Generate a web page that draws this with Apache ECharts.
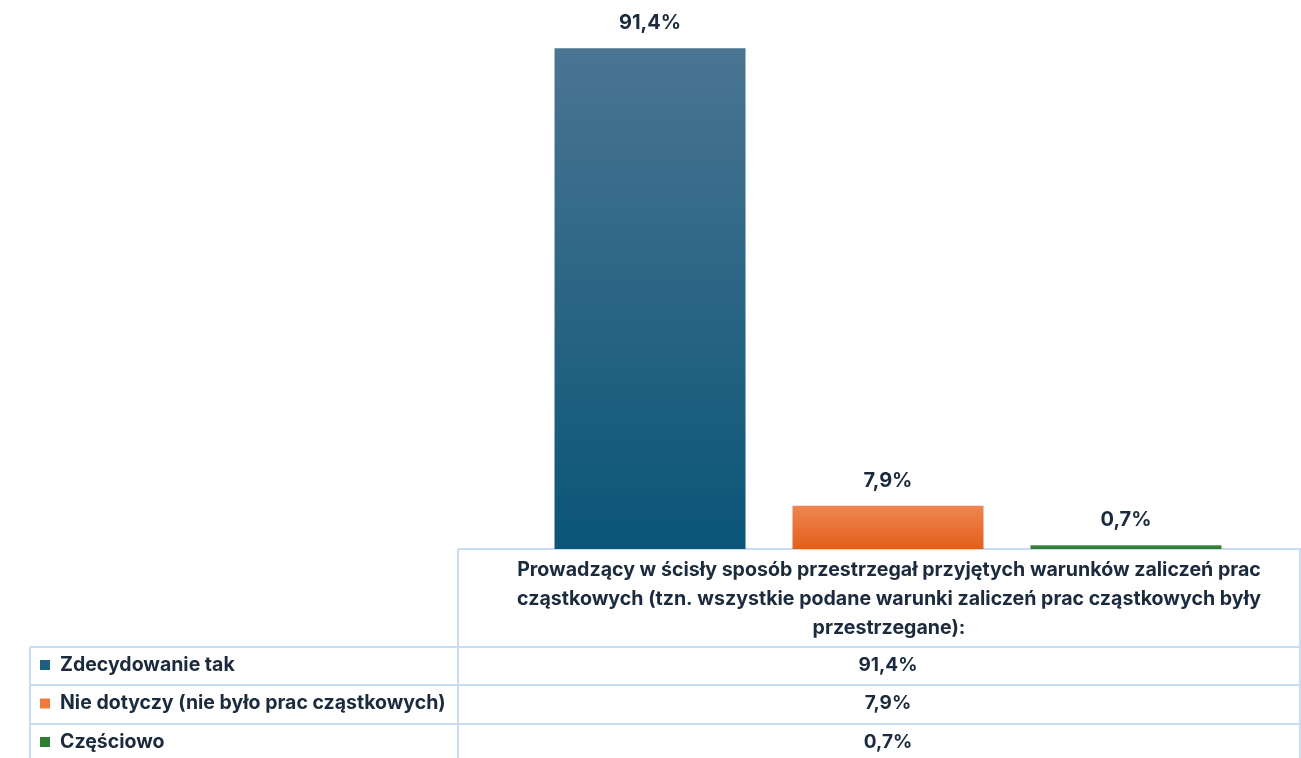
<!DOCTYPE html>
<html>
<head>
<meta charset="utf-8">
<script src="https://cdn.jsdelivr.net/npm/echarts@6/dist/echarts.min.js"></script>
<style>
  html, body { margin: 0; padding: 0; background: #fff; }
  #chart { width: 1301px; height: 758px; }
</style>
</head>
<body>
<div id="chart"></div>
<script>
// data
const categories = ['Prowadzący w ścisły sposób przestrzegał przyjętych warunków zaliczeń prac\ncząstkowych (tzn. wszystkie podane warunki zaliczeń prac cząstkowych były\nprzestrzegane):']
const seriesNames = ['Zdecydowanie tak', 'Nie dotyczy (nie było prac cząstkowych)', 'Częściowo']
const seriesValues = [91.4, 7.9, 0.7]
const seriesColors = [
  ['#4a7592', '#0a5577'],
  ['#ef8652', '#e35e1b'],
  ['#3f8a43', '#2a7a2e']
]
const legendColors = ['#1c5f82', '#ef7a3c', '#2e7d32']

const textColor = '#1b2b3d'
const borderColor = '#c8dcf2'
const font = 'Inter, "Open Sans", sans-serif'

function fmt(v) {
  return v.toFixed(1).replace('.', ',') + '%'
}

const chart = echarts.init(document.getElementById('chart'))

// table layout
const tableLeft = 30
const colX = 458
const right = 1300
const baseY = 549
const headerBottom = 647
const rowH = 38
const textCenter = 888

const graphics = []
function hline(x1, x2, y) {
  graphics.push({ type: 'line', shape: { x1, y1: y, x2, y2: y }, style: { stroke: borderColor, lineWidth: 2 }, silent: true })
}
function vline(x, y1, y2) {
  graphics.push({ type: 'line', shape: { x1: x, y1, x2: x, y2 }, style: { stroke: borderColor, lineWidth: 2 }, silent: true })
}

hline(colX, right + 2, baseY)
hline(tableLeft, right + 2, headerBottom)
seriesNames.forEach((n, i) => hline(tableLeft, right + 2, headerBottom + rowH * (i + 1) + i))
vline(tableLeft, headerBottom, 760)
vline(colX, baseY, 760)
vline(right, baseY, 760)

graphics.push({
  type: 'text', silent: true,
  style: {
    text: categories[0], x: textCenter + 1, y: 599,
    align: 'center', verticalAlign: 'middle',
    font: 'bold 19.6px ' + font, lineHeight: 29, fill: textColor
  }
})

seriesNames.forEach((n, i) => {
  const cy = headerBottom + 18 + i * 38.5
  graphics.push({ type: 'rect', silent: true, shape: { x: 40, y: cy - 5, width: 10, height: 10 }, style: { fill: legendColors[i] } })
  graphics.push({
    type: 'text', silent: true,
    style: { text: n, x: 60, y: cy, verticalAlign: 'middle', font: 'bold 19.5px ' + font, fill: textColor }
  })
  graphics.push({
    type: 'text', silent: true,
    style: { text: fmt(seriesValues[i]), x: textCenter, y: cy, align: 'center', verticalAlign: 'middle', font: 'bold 19px ' + font, fill: textColor }
  })
})

const option = {
  animation: false,
  grid: { left: 475, right: 0, top: 1, bottom: 758 - baseY },
  xAxis: {
    type: 'category',
    data: categories,
    axisLine: { show: false },
    axisTick: { show: false },
    axisLabel: { show: false }
  },
  yAxis: {
    type: 'value',
    min: 0,
    max: 100,
    show: false,
    splitLine: { show: false }
  },
  series: seriesNames.map((name, i) => ({
    name,
    type: 'bar',
    barWidth: 191,
    barGap: '24.6%',
    data: [seriesValues[i]],
    itemStyle: {
      color: new echarts.graphic.LinearGradient(0, 0, 0, 1, [
        { offset: 0, color: seriesColors[i][0] },
        { offset: 1, color: seriesColors[i][1] }
      ])
    },
    label: {
      show: true,
      position: 'top',
      distance: 15,
      formatter: p => fmt(p.value),
      fontFamily: font,
      fontWeight: 'bold',
      fontSize: 20,
      color: textColor
    }
  })),
  graphic: graphics
}

chart.setOption(option)
</script>
</body>
</html>
